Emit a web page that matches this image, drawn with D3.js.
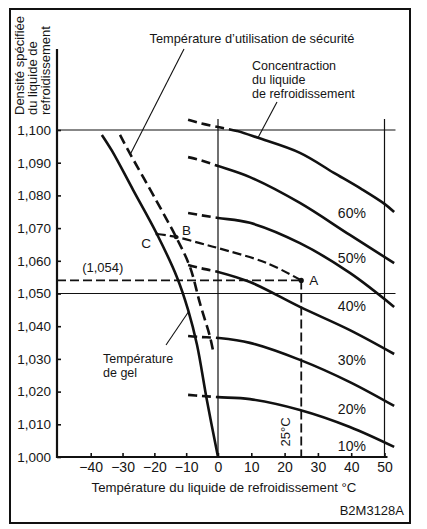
<!DOCTYPE html>
<html><head><meta charset="utf-8">
<script src="https://cdn.jsdelivr.net/npm/d3@7"></script>
<style>
body{margin:0;background:#fff}
svg{display:block}
text{font-family:"Liberation Sans",Arial,Helvetica,sans-serif;fill:#151515}
</style>
</head><body>
<svg id="chart" width="427" height="529"></svg>
<script>
// ---------- data ----------
const xTicks = [-40, -30, -20, -10, 0, 10, 20, 30, 40, 50];
const xTickLabels = ["\u221240", "\u221230", "\u221220", "\u221210", "0", "10", "20", "30", "40", "50"];
const yTicks = [1.000, 1.010, 1.020, 1.030, 1.040, 1.050, 1.060, 1.070, 1.080, 1.090, 1.100];
const yTickLabels = ["1,000", "1,010", "1,020", "1,030", "1,040", "1,050", "1,060", "1,070", "1,080", "1,090", "1,100"];

const concLabels = ["60%", "50%", "40%", "30%", "20%", "10%"];
const c60X = [-9.4, -5.7, 0, 5.7, 12, 24.6, 34.8, 43, 50, 52.9];
const c60  = [1.1031, 1.1021, 1.1009, 1.0997, 1.0976, 1.0930, 1.0869, 1.0820, 1.0774, 1.0749];
const concX = [-9.4, -5.7, 0, 9.6, 24.6, 39.6, 52.9];
const c50 = [1.0917, 1.0908, 1.0890, 1.0856, 1.0777, 1.0679, 1.0593];
const c40 = [1.0746, 1.0740, 1.0731, 1.0716, 1.0654, 1.0563, 1.0459];
const c30 = [1.0587, 1.0578, 1.0566, 1.0535, 1.0459, 1.0388, 1.0315];
const c20 = [1.0370, 1.0367, 1.0364, 1.0349, 1.0297, 1.0229, 1.0156];
const c10 = [1.0190, 1.0187, 1.0183, 1.0177, 1.0144, 1.0092, 1.0031];

const freezeX = [-36.5, -33.3, -26.7, -19.2, -12.9, -9.4, -6.6, -3.5, 0];
const freezeD = [1.0985, 1.0936, 1.0817, 1.0682, 1.0550, 1.0450, 1.0343, 1.0174, 1.000];
const safeX = [-30.8, -28.3, -19.5, -13.2, -8.8, -5.7, -2.5, -1.6];
const safeD = [1.0985, 1.0939, 1.0786, 1.0673, 1.0581, 1.0471, 1.0367, 1.0327];
const exampleX = [-19.2, -13.2, -5.7, 0, 14.7, 25];
const exampleD = [1.0682, 1.0673, 1.0654, 1.0639, 1.0593, 1.054];
const pointA = [25, 1.054];
const pointB = [-13.2, 1.0673];
const pointC = [-19.2, 1.0682];

// ---------- layout ----------
const svg = d3.select("#chart");
const x = d3.scaleLinear().domain([-50.6, 0, 50]).range([57, 218, 384.5]);
const y = d3.scaleLinear().domain([1.0, 1.1]).range([457, 130]);
const xMin = -50.6, xMax = 53.3, yTop = 1.1248, gridTop = 1.1034;
const ink = "#111";

const zip = (xs, ys) => xs.map((v, i) => [v, ys[i]]);
const line = d3.line().x(d => x(d[0])).y(d => y(d[1])).curve(d3.curveCatmullRom.alpha(0.5));

// frame
svg.append("rect").attr("x", 10).attr("y", 9).attr("width", 400).attr("height", 514)
  .attr("fill", "none").attr("stroke", ink).attr("stroke-width", 2);

// grid lines
const g = svg.append("g").attr("stroke", ink).attr("stroke-width", 1.2);
[0, 50].forEach(v => g.append("line").attr("x1", x(v)).attr("x2", x(v)).attr("y1", y(gridTop)).attr("y2", y(1.0)));
[1.100, 1.050].forEach(v => g.append("line").attr("x1", x(xMin)).attr("x2", x(xMax)).attr("y1", y(v)).attr("y2", y(v)));

// axes
const yAxis = d3.axisLeft(y).tickValues(yTicks).tickFormat((d, i) => yTickLabels[i]).tickSize(-4).tickPadding(6);
const ya = svg.append("g").attr("transform", `translate(${x(xMin)},0)`).call(yAxis);
ya.select(".domain").remove();
ya.selectAll("line").attr("stroke", ink).attr("stroke-width", 1.6);
ya.selectAll("text").attr("font-size", 13.5).attr("font-family", null).attr("fill", "#151515");

const xAxis = d3.axisBottom(x).tickValues(xTicks).tickFormat((d, i) => xTickLabels[i]).tickSize(-4).tickPadding(5);
const xa = svg.append("g").attr("transform", `translate(0,${y(1.0)})`).call(xAxis);
xa.select(".domain").remove();
xa.selectAll("line").attr("stroke", ink).attr("stroke-width", 1.6);
xa.selectAll("text").attr("font-size", 14).attr("font-family", null).attr("fill", "#151515");

svg.append("line").attr("x1", x(xMin)).attr("x2", x(xMin)).attr("y1", y(yTop)).attr("y2", y(1.0) + 1)
  .attr("stroke", ink).attr("stroke-width", 2.2);
svg.append("line").attr("x1", x(xMin) - 1).attr("x2", x(xMax) - 8).attr("y1", y(1.0)).attr("y2", y(1.0))
  .attr("stroke", ink).attr("stroke-width", 2.2);

// clip paths for dashed / solid parts of concentration curves
const defs = svg.append("defs");
function clip(id, x0, x1) {
  defs.append("clipPath").attr("id", id).append("rect")
    .attr("x", x0).attr("y", 0).attr("width", x1 - x0).attr("height", 529);
}
clip("left0", 0, x(0));
clip("right0", x(0), 427);
clip("leftTop", 0, x(5.7));
clip("rightTop", x(5.7), 427);

const curves = [zip(c60X, c60), zip(concX, c50), zip(concX, c40), zip(concX, c30), zip(concX, c20), zip(concX, c10)];
curves.forEach((pts, i) => {
  const split = i === 0 ? ["leftTop", "rightTop"] : ["left0", "right0"];
  svg.append("path").attr("d", line(pts)).attr("fill", "none").attr("stroke", ink)
    .attr("stroke-width", 2.6).attr("stroke-dasharray", "9,5").attr("clip-path", `url(#${split[0]})`);
  svg.append("path").attr("d", line(pts)).attr("fill", "none").attr("stroke", ink)
    .attr("stroke-width", 2.6).attr("clip-path", `url(#${split[1]})`);
});

// freezing curve & safe-use curve
svg.append("path").attr("d", line(zip(freezeX, freezeD))).attr("fill", "none")
  .attr("stroke", ink).attr("stroke-width", 2.6);
svg.append("path").attr("d", line(zip(safeX, safeD))).attr("fill", "none")
  .attr("stroke", ink).attr("stroke-width", 2.6).attr("stroke-dasharray", "10,5");

// example reading C-B-A and 1,054 / 25 °C guides
svg.append("path").attr("d", line(zip(exampleX, exampleD))).attr("fill", "none")
  .attr("stroke", ink).attr("stroke-width", 2.2).attr("stroke-dasharray", "9,4");
svg.append("line").attr("x1", x(xMin)).attr("x2", x(pointA[0])).attr("y1", y(pointA[1])).attr("y2", y(pointA[1]))
  .attr("stroke", ink).attr("stroke-width", 1.7).attr("stroke-dasharray", "9,4");
svg.append("line").attr("x1", x(pointA[0])).attr("x2", x(pointA[0])).attr("y1", y(pointA[1])).attr("y2", y(1.0))
  .attr("stroke", ink).attr("stroke-width", 1.8).attr("stroke-dasharray", "9,4");
[[pointA, 2.6], [pointB, 2.2], [pointC, 1.5]].forEach(([p, r]) =>
  svg.append("circle").attr("cx", x(p[0])).attr("cy", y(p[1])).attr("r", r).attr("fill", ink));

// labels
const T = (tx, ty, s, size, anchor) => svg.append("text").attr("x", tx).attr("y", ty)
  .attr("font-size", size || 13).attr("text-anchor", anchor || "start").text(s);
// multi-line text as one element
const ML = (tx, ty, lines, size, lh) => {
  const t = svg.append("text").attr("x", tx).attr("y", ty).attr("font-size", size);
  lines.forEach((s, i) => t.append("tspan").attr("x", tx).attr("dy", i ? lh : 0).text(s));
  return t;
};

T(x(pointA[0]) + 8, y(pointA[1]) + 5, "A", 13.5);
T(x(pointB[0]) + 6, y(pointB[1]) - 2, "B", 13.5);
T(x(pointC[0]) - 6, y(pointC[1]) + 14, "C", 13.5, "end");
T(x(-36.2), y(pointA[1]) - 8, "(1,054)", 13, "middle");
svg.append("text").attr("transform", `translate(${x(pointA[0]) - 11},${y(1.0) - 25}) rotate(-90)`)
  .attr("font-size", 13).attr("text-anchor", "middle").text("25\u00B0C");

// percent labels between curves
const valAt = (xs, ys, v) => {
  for (let i = 0; i < xs.length - 1; i++) if (v >= xs[i] && v <= xs[i + 1])
    return ys[i] + (ys[i + 1] - ys[i]) * (v - xs[i]) / (xs[i + 1] - xs[i]);
  return ys[ys.length - 1];
};
const at40 = [valAt(c60X, c60, 39.6), c50[5], c40[5], c30[5], c20[5], c10[5], 1.0];
concLabels.forEach((s, i) => {
  const cy = (y(at40[i]) + y(at40[i + 1])) / 2 + 4;
  T(x(40.2), cy + 5, s, 14, "middle");
});

// titles & annotations
T(252, 43, "Temp\u00E9rature d\u2019utilisation de s\u00E9curit\u00E9", 12.8, "middle");
svg.append("line").attr("x1", 184).attr("y1", 49).attr("x2", x(-27.6)).attr("y2", y(1.0925))
  .attr("stroke", ink).attr("stroke-width", 1.1);

ML(252, 69.5, ["Concentraction", "du liquide", "de refroidissement"], 12.5, 14);
svg.append("line").attr("x1", 277).attr("y1", 102).attr("x2", x(12)).attr("y2", y(1.0976))
  .attr("stroke", ink).attr("stroke-width", 1.1);

ML(103, 362.5, ["Temp\u00E9rature", "de gel"], 12.5, 14);
svg.append("line").attr("x1", 166).attr("y1", 345).attr("x2", x(-9.2)).attr("y2", y(1.0445))
  .attr("stroke", ink).attr("stroke-width", 1.1);

const yTitle = ["Densit\u00E9 sp\u00E9cifi\u00E9e", "du liquide de", "refroidissement"];
const yt = svg.append("text").attr("transform", "translate(24,115) rotate(-90)").attr("font-size", 13);
yTitle.forEach((s, i) => yt.append("tspan").attr("x", 0).attr("y", i * 12.8).text(s));

T(224, 492, "Temp\u00E9rature du liquide de refroidissement \u00B0C", 13.2, "middle");
T(404, 515, "B2M3128A", 13, "end");
</script>
</body></html>
